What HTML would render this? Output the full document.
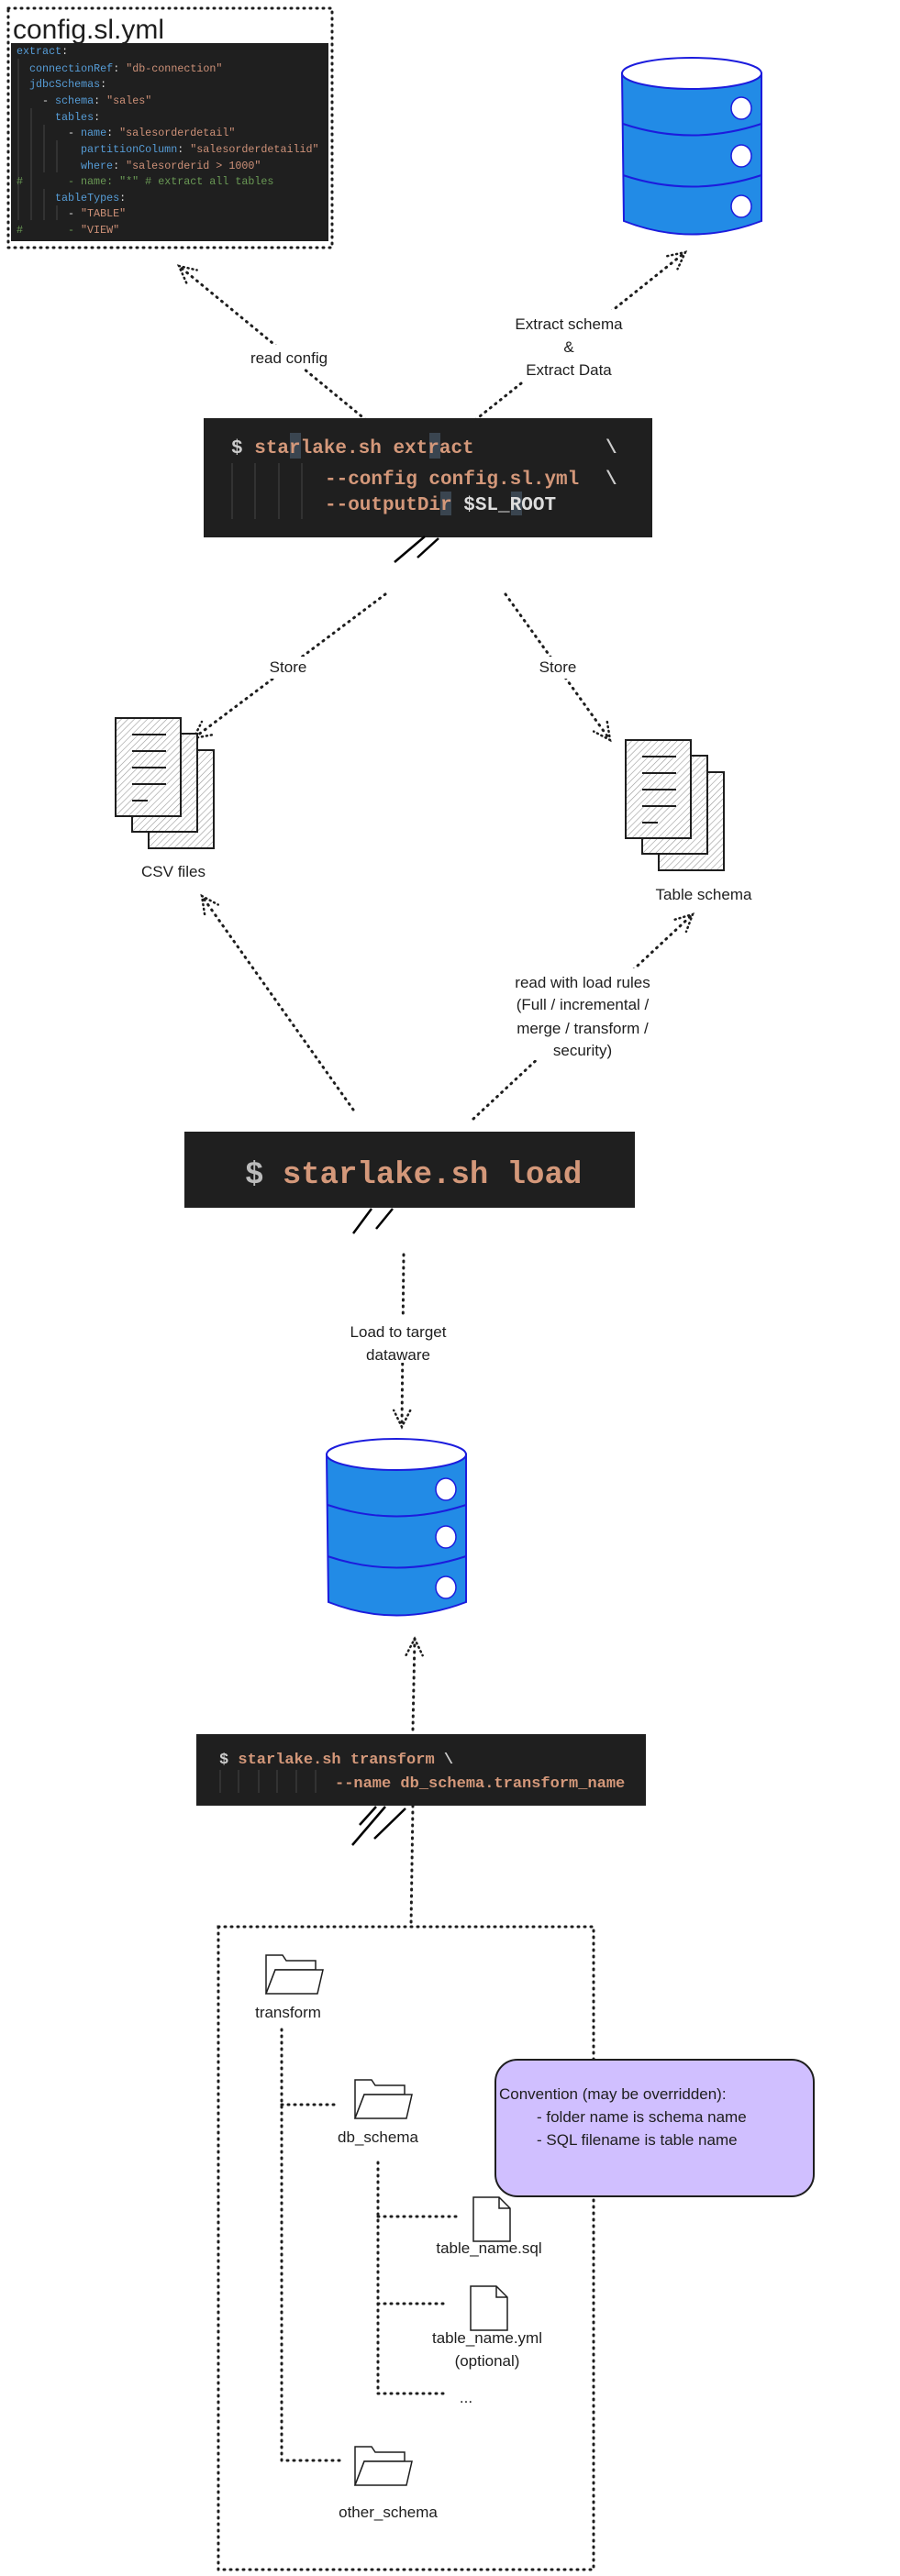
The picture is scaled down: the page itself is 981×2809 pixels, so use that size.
<!DOCTYPE html>
<html><head><meta charset="utf-8"><style>
html,body{margin:0;padding:0;background:#fff;}
svg{display:block;}
.h{font-family:"Liberation Sans",sans-serif;fill:#1e1e1e;}
.m{font-family:"Liberation Mono",monospace;white-space:pre;}
</style></head><body>
<svg width="981" height="2809" viewBox="0 0 981 2809" xmlns="http://www.w3.org/2000/svg">
<defs>
<marker id="a" viewBox="-25 -15 30 30" markerWidth="30" markerHeight="30" refX="0" refY="0" orient="auto" markerUnits="userSpaceOnUse">
<path d="M-18,-9 L0,0 L-18,9" fill="none" stroke="#1e1e1e" stroke-width="2.5" stroke-dasharray="1 4" stroke-linecap="round"/>
</marker>
<pattern id="hat" width="5" height="5" patternUnits="userSpaceOnUse" patternTransform="rotate(45)">
<rect width="5" height="5" fill="#fff"/><line x1="0" y1="0" x2="0" y2="5" stroke="#999" stroke-width="1.2"/>
</pattern>
<g id="db">
<path d="M0,15 L2,176 Q76,205 152,176 L152,15 Z" fill="#228be6" stroke="#1c1cdd" stroke-width="2"/>
<ellipse cx="76" cy="15" rx="76" ry="17" fill="#fff" stroke="#1c1cdd" stroke-width="2"/>
<path d="M1,70 Q76,95 152,70" fill="none" stroke="#1c1cdd" stroke-width="2"/>
<path d="M1,126 Q76,151 152,126" fill="none" stroke="#1c1cdd" stroke-width="2"/>
<ellipse cx="130" cy="53" rx="11" ry="12" fill="#fff" stroke="#1c1cdd" stroke-width="1.5"/>
<ellipse cx="130" cy="105" rx="11" ry="12" fill="#fff" stroke="#1c1cdd" stroke-width="1.5"/>
<ellipse cx="130" cy="160" rx="11" ry="12" fill="#fff" stroke="#1c1cdd" stroke-width="1.5"/>
</g>
<g id="docs">
<rect x="36" y="35" width="71" height="107" fill="url(#hat)" stroke="#1e1e1e" stroke-width="2"/>
<rect x="18" y="17" width="71" height="107" fill="url(#hat)" stroke="#1e1e1e" stroke-width="2"/>
<rect x="0" y="0" width="71" height="107" fill="url(#hat)" stroke="#1e1e1e" stroke-width="2"/>
<g stroke="#1e1e1e" stroke-width="2"><line x1="18" y1="18" x2="55" y2="18"/><line x1="18" y1="36" x2="55" y2="36"/><line x1="18" y1="54" x2="55" y2="54"/><line x1="18" y1="72" x2="55" y2="72"/><line x1="18" y1="90" x2="35" y2="90"/></g>
</g>
<g id="folder">
<path d="M2,4 L20,4 L24,10 L56,10 L56,20 L12,20 L2,46 Z" fill="#fff" stroke="#1e1e1e" stroke-width="1.5"/>
<path d="M2,46 L12,20 L64,20 L58,46 Z" fill="#fff" stroke="#1e1e1e" stroke-width="1.5"/>
</g>
<g id="file">
<path d="M0,0 L28,0 L40,12 L40,48 L0,48 Z M28,0 L28,12 L40,12" fill="#fff" stroke="#1e1e1e" stroke-width="1.5"/>
</g>
</defs>

<g fill="none" stroke="#1e1e1e" stroke-width="3" stroke-dasharray="1 6" stroke-linecap="round">
<rect x="9" y="9" width="353" height="261"/>
<line x1="399" y1="458" x2="195" y2="290" marker-end="url(#a)"/>
<line x1="518" y1="458" x2="747" y2="275" marker-end="url(#a)"/>
<line x1="420" y1="648" x2="211" y2="805" marker-end="url(#a)"/>
<line x1="551" y1="648" x2="665" y2="807" marker-end="url(#a)"/>
<line x1="385" y1="1210" x2="220" y2="977" marker-end="url(#a)"/>
<line x1="516" y1="1220" x2="755" y2="997" marker-end="url(#a)"/>
<line x1="440" y1="1368" x2="438" y2="1556" marker-end="url(#a)"/>
<line x1="450" y1="1886" x2="452" y2="1787" marker-end="url(#a)"/>
<line x1="450" y1="1969" x2="448" y2="2101"/>
<rect x="238" y="2101" width="409" height="701"/>
<polyline points="307,2213 307,2683 371,2683"/>
<line x1="307" y1="2295" x2="368" y2="2295"/>
<polyline points="412,2358 412,2610 484,2610"/>
<line x1="412" y1="2417" x2="497" y2="2417"/>
<line x1="412" y1="2512" x2="484" y2="2512"/>
</g>

<text x="14" y="42" class="h" font-size="30">config.sl.yml</text>
<rect x="12" y="47" width="346" height="216" fill="#1f1f1f"/>
<g stroke="#444" stroke-width="1">
<line x1="20" y1="64" x2="20" y2="240"/><line x1="34" y1="118" x2="34" y2="240"/><line x1="48" y1="136" x2="48" y2="188"/><line x1="62" y1="153" x2="62" y2="188"/><line x1="48" y1="206" x2="48" y2="240"/><line x1="62" y1="224" x2="62" y2="240"/>
</g>
<g class="m" font-size="11.7">
<text x="18" y="59"><tspan fill="#569cd6">extract</tspan><tspan fill="#ddd">:</tspan></text>
<text x="32" y="78"><tspan fill="#569cd6">connectionRef</tspan><tspan fill="#ddd">: </tspan><tspan fill="#ce9178">"db-connection"</tspan></text>
<text x="32" y="95"><tspan fill="#569cd6">jdbcSchemas</tspan><tspan fill="#ddd">:</tspan></text>
<text x="46" y="113"><tspan fill="#ddd">- </tspan><tspan fill="#569cd6">schema</tspan><tspan fill="#ddd">: </tspan><tspan fill="#ce9178">"sales"</tspan></text>
<text x="60" y="131"><tspan fill="#569cd6">tables</tspan><tspan fill="#ddd">:</tspan></text>
<text x="74" y="148"><tspan fill="#ddd">- </tspan><tspan fill="#569cd6">name</tspan><tspan fill="#ddd">: </tspan><tspan fill="#ce9178">"salesorderdetail"</tspan></text>
<text x="88" y="166"><tspan fill="#569cd6">partitionColumn</tspan><tspan fill="#ddd">: </tspan><tspan fill="#ce9178">"salesorderdetailid"</tspan></text>
<text x="88" y="184"><tspan fill="#569cd6">where</tspan><tspan fill="#ddd">: </tspan><tspan fill="#ce9178">"salesorderid &gt; 1000"</tspan></text>
<text x="18" y="201" fill="#6a9955">#</text>
<text x="74" y="201" fill="#6a9955">- name: "*" # extract all tables</text>
<text x="60" y="219"><tspan fill="#569cd6">tableTypes</tspan><tspan fill="#ddd">:</tspan></text>
<text x="74" y="236"><tspan fill="#ddd">- </tspan><tspan fill="#ce9178">"TABLE"</tspan></text>
<text x="18" y="254" fill="#6a9955">#</text>
<text x="74" y="254" fill="#6a9955">- <tspan fill="#ce9178">"VIEW"</tspan></text>
</g>

<use href="#db" x="678" y="65"/>

<rect x="262" y="376" width="106" height="26" fill="#fff"/>
<text x="315" y="396" class="h" font-size="17" text-anchor="middle">read config</text>
<rect x="545" y="338" width="150" height="78" fill="#fff"/>
<g class="h" font-size="17" text-anchor="middle"><text x="620" y="359">Extract schema</text><text x="620" y="384">&amp;</text><text x="620" y="409">Extract  Data</text></g>

<rect x="222" y="456" width="489" height="130" fill="#1f1f1f"/>
<rect x="316" y="472" width="12" height="28" fill="#3a4550"/><rect x="468" y="472" width="12" height="28" fill="#3a4550"/>
<rect x="480" y="536" width="12" height="26" fill="#3a4550"/><rect x="557" y="536" width="12" height="26" fill="#3a4550"/>
<g stroke="#444"><line x1="253" y1="505" x2="253" y2="566"/><line x1="278" y1="505" x2="278" y2="566"/><line x1="304" y1="505" x2="304" y2="566"/><line x1="329" y1="505" x2="329" y2="566"/></g>
<g class="m" font-size="21" font-weight="bold">
<text x="252" y="494"><tspan fill="#ccc">$ </tspan><tspan fill="#d4987a">starlake.sh extract</tspan></text>
<text x="660" y="494" fill="#ccc">\</text>
<text x="354" y="528" fill="#d4987a">--config config.sl.yml</text>
<text x="660" y="528" fill="#ccc">\</text>
<text x="354" y="556"><tspan fill="#d4987a">--outputDir</tspan><tspan fill="#ddd"> $SL_ROOT</tspan></text>
</g>
<g stroke="#000" stroke-width="2.5"><line x1="430" y1="613" x2="463" y2="585"/><line x1="455" y1="608" x2="478" y2="587"/></g>

<rect x="288" y="716" width="54" height="24" fill="#fff"/>
<text x="314" y="733" class="h" font-size="17" text-anchor="middle">Store</text>
<rect x="582" y="716" width="54" height="24" fill="#fff"/>
<text x="608" y="733" class="h" font-size="17" text-anchor="middle">Store</text>

<use href="#docs" x="126" y="783"/>
<use href="#docs" x="682" y="807"/>
<text x="189" y="956" class="h" font-size="17" text-anchor="middle">CSV files</text>
<text x="767" y="981" class="h" font-size="17" text-anchor="middle">Table schema</text>

<rect x="530" y="1056" width="210" height="100" fill="#fff"/>
<g class="h" font-size="17" text-anchor="middle"><text x="635" y="1077">read with load rules</text><text x="635" y="1101">(Full / incremental /</text><text x="635" y="1127">merge / transform /</text><text x="635" y="1151">security)</text></g>

<rect x="201" y="1234" width="491" height="83" fill="#1f1f1f"/>
<text x="267" y="1290" class="m" font-size="34" font-weight="bold"><tspan fill="#bbb">$ </tspan><tspan fill="#d4987a">starlake.sh load</tspan></text>
<g stroke="#000" stroke-width="2.5"><line x1="385" y1="1345" x2="405" y2="1318"/><line x1="410" y1="1340" x2="428" y2="1318"/></g>

<rect x="350" y="1436" width="170" height="50" fill="#fff"/>
<g class="h" font-size="17" text-anchor="middle"><text x="434" y="1458">Load to target</text><text x="434" y="1483">dataware</text></g>

<use href="#db" x="356" y="1571"/>

<rect x="214" y="1891" width="490" height="78" fill="#1f1f1f"/>
<g stroke="#444"><line x1="240" y1="1930" x2="240" y2="1955"/><line x1="260" y1="1930" x2="260" y2="1955"/><line x1="282" y1="1930" x2="282" y2="1955"/><line x1="302" y1="1930" x2="302" y2="1955"/><line x1="323" y1="1930" x2="323" y2="1955"/><line x1="344" y1="1930" x2="344" y2="1955"/></g>
<g class="m" font-size="17" font-weight="bold">
<text x="239" y="1923"><tspan fill="#ccc">$ </tspan><tspan fill="#d4987a">starlake.sh transform</tspan><tspan fill="#ccc"> \</tspan></text>
<text x="365" y="1949" fill="#d4987a">--name db_schema.transform_name</text>
</g>
<g stroke="#000" stroke-width="2.5"><line x1="384" y1="2012" x2="420" y2="1970"/><line x1="408" y1="2005" x2="442" y2="1972"/><line x1="392" y1="1990" x2="410" y2="1970"/></g>

<use href="#folder" x="288" y="2128"/>
<text x="314" y="2200" class="h" font-size="17" text-anchor="middle">transform</text>
<use href="#folder" x="385" y="2264"/>
<text x="412" y="2336" class="h" font-size="17" text-anchor="middle">db_schema</text>
<use href="#file" x="516" y="2396"/>
<text x="533" y="2457" class="h" font-size="17" text-anchor="middle">table_name.sql</text>
<use href="#file" x="513" y="2493"/>
<text x="531" y="2555" class="h" font-size="17" text-anchor="middle">table_name.yml</text>
<text x="531" y="2580" class="h" font-size="17" text-anchor="middle">(optional)</text>
<text x="508" y="2620" class="h" font-size="17" text-anchor="middle">...</text>
<use href="#folder" x="385" y="2664"/>
<text x="423" y="2745" class="h" font-size="17" text-anchor="middle">other_schema</text>

<rect x="540" y="2246" width="347" height="149" rx="24" fill="#d0bfff" stroke="#1e1e1e" stroke-width="2"/>
<g class="h" font-size="17"><text x="544" y="2289">Convention (may be overridden):</text><text x="585" y="2314">- folder name is schema name</text><text x="585" y="2339">- SQL filename is table name</text></g>
</svg>
</body></html>
